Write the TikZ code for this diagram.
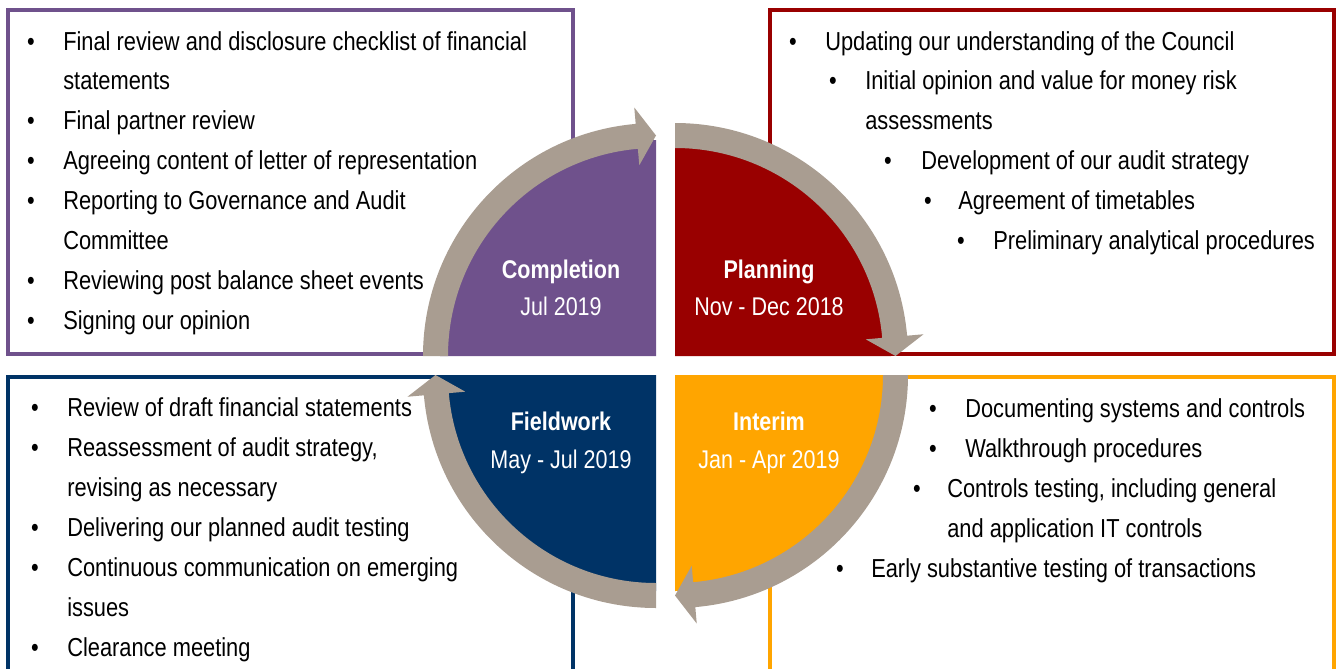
\documentclass[tikz,border=0pt]{standalone}
\usepackage{fontspec}
\setmainfont{Liberation Sans}[FakeStretch=0.84]
\definecolor{PhasePurple}{HTML}{6F518C}
\definecolor{PhaseRed}{HTML}{990000}
\definecolor{PhaseNavy}{HTML}{003366}
\definecolor{PhaseOrange}{HTML}{FFA500}
\definecolor{RingTaupe}{HTML}{A99D91}
\begin{document}
\begin{tikzpicture}[x=0.75pt,y=0.75pt,font=\fontsize{19.5}{30}\selectfont,panel/.style={line width=3pt},item/.style={anchor=mid west,inner sep=0pt,yshift=-3.75pt},dot/.style={anchor=mid,inner sep=0pt,yshift=-3.75pt},phase/.style={text=white,align=center,inner sep=0pt,font=\fontsize{19.2}{28}\selectfont}]
\useasboundingbox (0,0) rectangle (1342,-668);
\clip (0,0) rectangle (1342,-668);
% panels behind the cycle
\draw[panel,draw=PhasePurple] (8,-10) rectangle (573,-354);
\draw[panel,draw=PhaseRed] (770,-10) rectangle (1334,-354);
\draw[panel,draw=PhaseNavy] (8,-377) rectangle (573,-700);
\draw[panel,draw=PhaseOrange] (770,-377) rectangle (1334,-700);
% quarter discs
\foreach \cx/\cy/\rot/\col in {656/-356/0/PhasePurple,675/-356/-90/PhaseRed,675/-375/180/PhaseOrange,656/-375/90/PhaseNavy}{\begin{scope}[shift={(\cx,\cy)},rotate=\rot]\fill[\col] (0,0) -- (180:216) arc[start angle=180,end angle=90,radius=216] -- cycle;\end{scope}}
% arrow ring
\foreach \cx/\cy/\rot in {656/-356/0,675/-356/-90,675/-375/180,656/-375/90}{\begin{scope}[shift={(\cx,\cy)},rotate=\rot]\fill[RingTaupe] (180:233) arc[start angle=180,end angle=95,radius=233] -- (95:249.5) -- (90:220.5) -- (95:191.5) -- (95:208) arc[start angle=95,end angle=180,radius=208] -- cycle;\end{scope}}
\node[phase] (completion) at (561,-288) {\textbf{Completion}\\Jul 2019};
\node[phase] (planning) at (769,-288) {\textbf{Planning}\\Nov - Dec 2018};
\node[phase] (fieldwork) at (561,-443) {\textbf{Fieldwork}\\May - Jul 2019};
\node[phase] (interim) at (769,-443) {\textbf{Interim}\\Jan - Apr 2019};
% completion list
\foreach \y/\t in {42/Final review and disclosure checklist of financial,81/statements,121/Final partner review,161/Agreeing content of letter of representation,201/Reporting to Governance and Audit,241/Committee,281/Reviewing post balance sheet events,321/Signing our opinion}{\node[item] (cmp\y) at (63,-\y) {\t};}
\foreach \y in {42,121,161,201,281,321}{\node[dot] (cmpb\y) at (31,-\y) {•};}
% planning list
\foreach \y/\bx/\tx/\t in {42/793/825/Updating our understanding of the Council,81/833/865/Initial opinion and value for money risk,161/888/921/Development of our audit strategy,201/928/958/Agreement of timetables,241/961/993/Preliminary analytical procedures}{\node[dot] (plnb\y) at (\bx,-\y) {•};\node[item] (pln\y) at (\tx,-\y) {\t};}
\node[item] (pln121) at (865,-121) {assessments};
% fieldwork list
\foreach \y/\t in {408/Review of draft financial statements,448/{Reassessment of audit strategy,},488/revising as necessary,528/Delivering our planned audit testing,568/Continuous communication on emerging,608/issues,648/Clearance meeting}{\node[item] (fld\y) at (67,-\y) {\t};}
\foreach \y in {408,448,528,568,648}{\node[dot] (fldb\y) at (35,-\y) {•};}
% interim list
\foreach \y/\bx/\tx/\t in {409/933/965/Documenting systems and controls,449/933/965/Walkthrough procedures,489/917/947/{Controls testing, including general},569/840/871/Early substantive testing of transactions}{\node[dot] (itmb\y) at (\bx,-\y) {•};\node[item] (itm\y) at (\tx,-\y) {\t};}
\node[item] (itm529) at (947,-529) {and application IT controls};
\end{tikzpicture}
\end{document}
